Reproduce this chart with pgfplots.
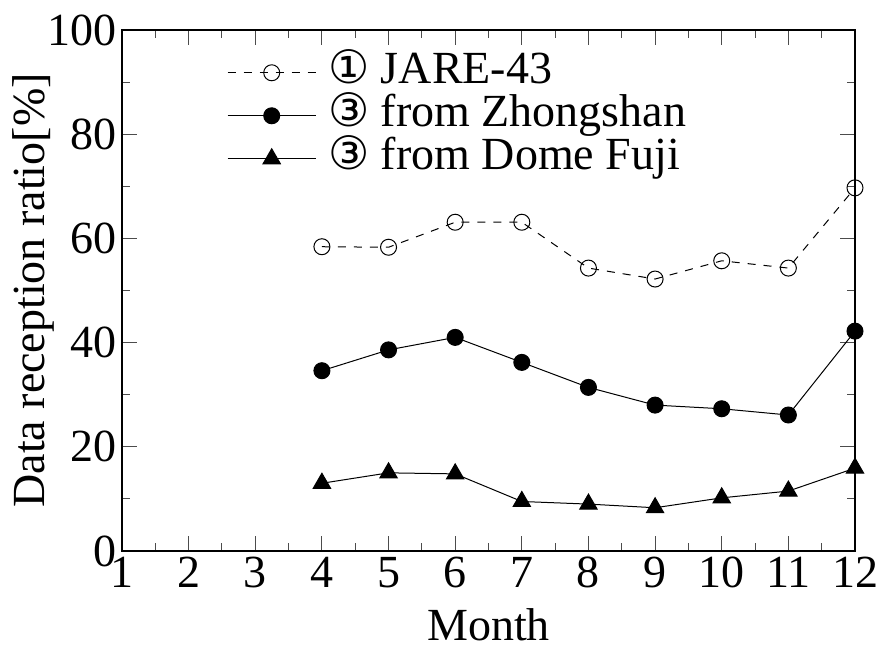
\documentclass[border=0pt]{standalone}
\usepackage{fontspec}
\setmainfont{Liberation Serif}
\newfontfamily\dejavu{DejaVu Sans}
\usepackage{pgfplots}
\pgfplotsset{compat=1.18}

\begin{document}
\fontsize{23}{27}\selectfont
\begin{tikzpicture}
\begin{axis}[
    scale only axis,
    width=366.5pt, height=260.5pt,
    xmin=1, xmax=12, ymin=0, ymax=100,
    xtick={1,...,12}, ytick={0,20,...,100},
    minor x tick num=1, minor y tick num=1,
    major tick length=7.5pt, minor tick length=4pt,
    tick style={line width=0.5pt, black!70},
    axis line style={line width=0.6pt},
    /pgf/number format/assume math mode=true,
    ticklabel style={font=\fontsize{23}{27}\selectfont, inner sep=1.5pt},
    yticklabel style={inner xsep=2.5pt},
    xticklabel style={inner ysep=3pt},
    label style={font=\fontsize{23}{27}\selectfont},
    xlabel={Month},
    ylabel={Data reception ratio[\%]},
    xlabel style={at={(axis description cs:0.5,-0.142)}, anchor=center},
    ylabel style={at={(axis description cs:-0.1214,0.5)}, anchor=center},
    legend style={draw=none, fill=none, at={(0.143,0.958)}, anchor=north west,
        font=\fontsize{23}{27}\selectfont, row sep=1pt, column sep=6pt, inner sep=0pt,
        nodes={text height=15.5pt, text depth=5pt, inner sep=0pt}},
    legend cell align=left,
    legend image code/.code={
        \draw[mark repeat=2, mark phase=2] plot coordinates {(0pt,0pt) (22pt,0pt) (44pt,0pt)};
    },
]
\addplot[black, line width=0.5pt, dash pattern=on 4pt off 4pt,
    mark=o, mark size=4pt, mark options={solid, fill=white, line width=0.5pt}]
    coordinates {(4,58.4)(5,58.3)(6,63.1)(7,63.1)(8,54.3)(9,52.2)(10,55.7)(11,54.3)(12,69.7)};
\addlegendentry{{\dejavu ①} JARE-43}
\addplot[black, line width=0.5pt, mark=*, mark size=4pt, mark options={solid}]
    coordinates {(4,34.6)(5,38.6)(6,41.0)(7,36.2)(8,31.4)(9,28.0)(10,27.3)(11,26.1)(12,42.2)};
\addlegendentry{{\dejavu ③} from Zhongshan}
\addplot[black, line width=0.5pt, mark=triangle*, mark size=5pt, mark options={solid}]
    coordinates {(4,13.0)(5,15.0)(6,14.8)(7,9.5)(8,9.0)(9,8.3)(10,10.2)(11,11.5)(12,15.9)};
\addlegendentry{{\dejavu ③} from Dome Fuji}
\end{axis}
\pgfresetboundingbox
\useasboundingbox ([xshift=-61pt,yshift=-50.5pt]current axis.south west) rectangle ([xshift=12pt,yshift=15pt]current axis.north east);
\end{tikzpicture}
\end{document}
